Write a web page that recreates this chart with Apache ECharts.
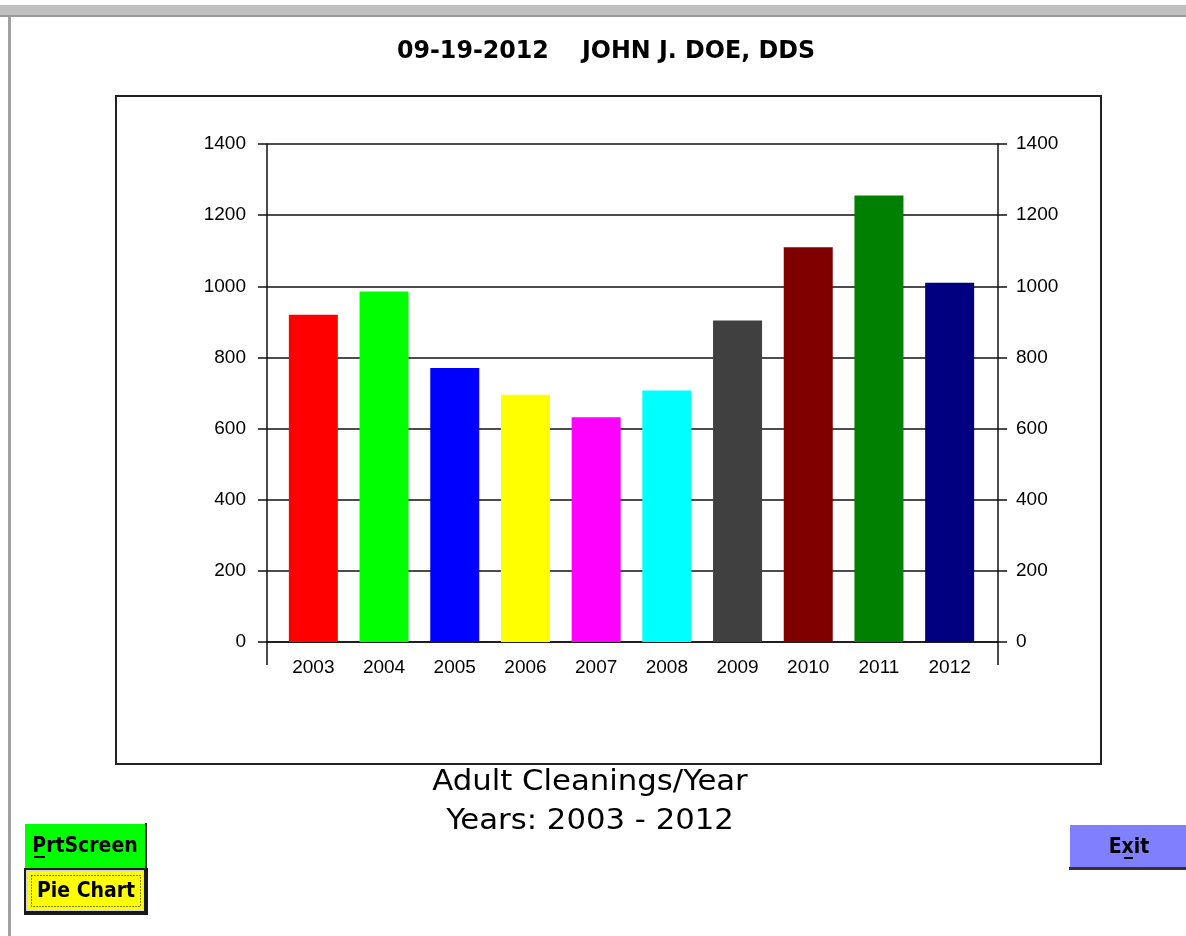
<!DOCTYPE html>
<html>
<head>
<meta charset="utf-8">
<script src="https://cdn.jsdelivr.net/npm/echarts@6/dist/echarts.min.js"></script>
<style>
  html, body { margin: 0; padding: 0; background: #fff; }
  #chart { width: 1186px; height: 936px; }
</style>
</head>
<body>
<div id="chart"></div>
<script>
// data
var years = ["2003", "2004", "2005", "2006", "2007", "2008", "2009", "2010", "2011", "2012"];
var cleanings = [920, 985, 770, 695, 632, 707, 904, 1110, 1255, 1010];
var barColors = ["#ff0000", "#00ff00", "#0000ff", "#ffff00", "#ff00ff", "#00ffff", "#404040", "#800000", "#008000", "#000080"];
var yMin = 0, yMax = 1400, yStep = 200;

var narrow = "'Liberation Sans Narrow', 'Arial Narrow', 'DejaVu Sans Condensed', sans-serif";
var plain = "'Liberation Sans', Arial, sans-serif";

var chart = echarts.init(document.getElementById("chart"));

// 窗口外框、标题、按钮
var chrome = [
  { type: "rect", shape: { x: 0, y: 5, width: 1186, height: 12 }, style: { fill: "#c0c0c0" }, silent: true },
  { type: "rect", shape: { x: 0, y: 15, width: 1186, height: 2 }, style: { fill: "#9a9a9a" }, silent: true },
  { type: "rect", shape: { x: 8, y: 17, width: 3, height: 919 }, style: { fill: "#a0a0a0" }, silent: true },
  { type: "rect", shape: { x: 116, y: 96, width: 985, height: 668 }, style: { fill: null, stroke: "#222", lineWidth: 2 }, silent: true },

  // 标题
  { type: "text", x: 606, y: 52, scaleX: 1.1,
    style: { text: "09-19-2012    JOHN J. DOE, DDS", font: "bold 24px " + narrow, fill: "#000", align: "center", verticalAlign: "middle" } },
  { type: "text", x: 590, y: 783, scaleX: 1.22,
    style: { text: "Adult Cleanings/Year", font: "28px " + narrow, fill: "#000", align: "center", verticalAlign: "middle" } },
  { type: "text", x: 590, y: 822, scaleX: 1.22,
    style: { text: "Years: 2003 - 2012", font: "28px " + narrow, fill: "#000", align: "center", verticalAlign: "middle" } },

  // PrtScreen
  { type: "rect", shape: { x: 25, y: 824, width: 121, height: 44 }, style: { fill: "#00ff00" } },
  { type: "rect", shape: { x: 145, y: 823, width: 2, height: 45 }, style: { fill: "#333" } },
  { type: "text", x: 85, y: 847, style: { text: "PrtScreen", font: "bold 21px " + narrow, fill: "#000", align: "center", verticalAlign: "middle" } },
  { type: "rect", shape: { x: 34, y: 856, width: 11, height: 2 }, style: { fill: "#000" } },

  // Pie Chart
  { type: "rect", shape: { x: 24, y: 868, width: 124, height: 47 }, style: { fill: "#1a1a1a" } },
  { type: "rect", shape: { x: 26, y: 870, width: 118, height: 41 }, style: { fill: "#d8d8d8" } },
  { type: "rect", shape: { x: 28, y: 872, width: 115, height: 38 }, style: { fill: "#ffff00" } },
  { type: "rect", shape: { x: 31.5, y: 875.5, width: 109, height: 31 }, style: { fill: null, stroke: "#000", lineWidth: 1, lineDash: [1, 2] } },
  { type: "text", x: 86, y: 892, style: { text: "Pie Chart", font: "bold 21px " + narrow, fill: "#000", align: "center", verticalAlign: "middle" } },

  // Exit
  { type: "rect", shape: { x: 1070, y: 825, width: 116, height: 43 }, style: { fill: "#8080ff" } },
  { type: "rect", shape: { x: 1069, y: 867, width: 117, height: 3 }, style: { fill: "#333" } },
  { type: "text", x: 1129, y: 848, style: { text: "Exit", font: "bold 21px " + narrow, fill: "#000", align: "center", verticalAlign: "middle" } },
  { type: "rect", shape: { x: 1124, y: 857, width: 9, height: 2 }, style: { fill: "#000" } }
];

function plainNum(v) { return String(v); }

var option = {
  animation: false,
  backgroundColor: "#fff",
  graphic: chrome,
  grid: [
    // 坐标框（左右两根 y 轴）
    { left: 267, width: 731, top: 144, height: 498 },
    // 柱子
    { left: 278, width: 707, top: 144, height: 498 }
  ],
  xAxis: [
    { gridIndex: 0, type: "value", min: 0, max: 1, interval: 1,
      axisLine: { show: true, lineStyle: { color: "#111", width: 1.5 } },
      axisTick: { show: true, length: 23, lineStyle: { color: "#111", width: 1.5 } },
      axisLabel: { show: false }, splitLine: { show: false } },
    { gridIndex: 1, type: "category", data: years,
      axisLine: { show: false }, axisTick: { show: false },
      axisLabel: { margin: 16, fontFamily: plain, fontSize: 19, color: "#000" } }
  ],
  yAxis: [
    { gridIndex: 0, type: "value", position: "left", min: yMin, max: yMax, interval: yStep,
      axisLine: { show: true, lineStyle: { color: "#111", width: 1.5 } },
      axisTick: { show: true, length: 9, lineStyle: { color: "#111", width: 1.5 } },
      axisLabel: { margin: 21, fontFamily: plain, fontSize: 19, color: "#000", formatter: plainNum },
      splitLine: { show: true, lineStyle: { color: "#111", width: 1.5 } } },
    { gridIndex: 0, type: "value", position: "right", min: yMin, max: yMax, interval: yStep,
      axisLine: { show: true, lineStyle: { color: "#111", width: 1.5 } },
      axisTick: { show: true, length: 9, lineStyle: { color: "#111", width: 1.5 } },
      axisLabel: { margin: 18, fontFamily: plain, fontSize: 19, color: "#000", formatter: plainNum },
      splitLine: { show: false } },
    { gridIndex: 1, type: "value", min: yMin, max: yMax, show: false }
  ],
  series: [
    {
      type: "bar",
      xAxisIndex: 1,
      yAxisIndex: 2,
      barWidth: 49,
      data: cleanings.map(function (v, i) {
        return { value: v, itemStyle: { color: barColors[i] } };
      })
    }
  ]
};

chart.setOption(option);
</script>
</body>
</html>
